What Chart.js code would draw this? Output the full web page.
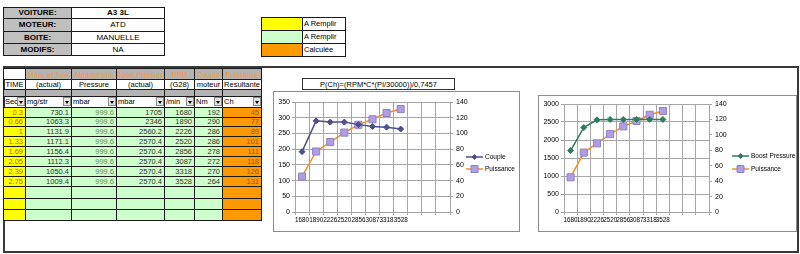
<!DOCTYPE html>
<html>
<head>
<meta charset="utf-8">
<script src="https://cdn.jsdelivr.net/npm/chart.js@4.4.0/dist/chart.umd.min.js"></script>
<style>
  body { margin: 0; width: 800px; height: 254px; background: #fff; position: relative; overflow: hidden;
         font-family: "Liberation Sans", Arial, sans-serif; }
  .c { position: absolute; box-sizing: border-box; border: 1px solid #1a1a1a; font-size: 8px; line-height: 1;
       white-space: nowrap; overflow: hidden; display: flex; align-items: center; justify-content: center; }
  .frame { position: absolute; left: 3px; top: 66px; width: 796px; height: 187px; box-sizing: border-box;
           border: 2px solid #3a3a3a; }
  .chartbox { position: absolute; border: 1px solid #8c8c8c; background: #fff; }
  .formula { position: absolute; left: 302px; top: 78px; width: 153px; height: 12px; box-sizing: border-box;
             border: 1px solid #333; font-size: 7.5px; display: flex; align-items: center; justify-content: center; }
  .btn { position: absolute; right: 0; top: 0; width: 8px; height: 9px; box-sizing: border-box;
         border: 1px solid #8a8a8a; background: #e4e4e4; }
  .btn:after { content: ""; position: absolute; left: 1px; top: 3px; border-left: 2.5px solid transparent;
               border-right: 2.5px solid transparent; border-top: 3px solid #000; }
</style>
</head>
<body>
<div class="frame"></div>
<div class="formula">P(Ch)=(RPM*C*(PI/30000))/0,7457</div>
<div class="chartbox" style="left:273px;top:91px;"><canvas id="chartCouple" width="245" height="139"></canvas></div>
<div class="chartbox" style="left:538px;top:95px;"><canvas id="chartBoost" width="257" height="135"></canvas></div>

<script>
const timeSec = [0.3, 0.66, 1, 1.33, 1.69, 2.05, 2.39, 2.75];
const massAirFlow = [730.1, 1063.3, 1131.9, 1171.1, 1156.4, 1112.3, 1050.4, 1009.4];
const atmoPressure = [999.6, 999.6, 999.6, 999.6, 999.6, 999.6, 999.6, 999.6];
const boostPressure = [1705, 2346, 2560.2, 2570.4, 2570.4, 2570.4, 2570.4, 2570.4];
const rpm = [1680, 1890, 2226, 2520, 2856, 3087, 3318, 3528];
const couple = [192, 290, 286, 286, 278, 272, 270, 264];
const puissance = [45, 77, 89, 101, 111, 118, 126, 131];

// axe X : les 8 régimes + 3 cases vides du tableau
const rpmCategories = ['1680', '1890', '2226', '2520', '2856', '3087', '3318', '3528', '', '', ''];

const infoLabels = ['VOITURE:', 'MOTEUR:', 'BOITE:', 'MODIFS:'];
const infoValues = ['A3 3L', 'ATD', 'MANUELLE', 'NA'];
const keyLabels = ['A Remplir', 'A Remplir', 'Calculée'];

const headTitles = ['', 'Mass air flow', 'Atmospheric', 'Boost Pressure', 'RPM', 'Couple', 'Puissance'];
const headSub = ['TIME', '(actual)', 'Pressure', '(actual)', '(G28)', 'moteur', 'Resultante'];
const headUnits = ['Sec', 'mg/str', 'mbar', 'mbar', '/min', 'Nm', 'Ch'];

const YELLOW = '#ffff00', GREEN = '#ccffcc', ORANGE = '#ff9900';

function cell(x0, x1, y0, y1, text, style) {
    const d = document.createElement('div');
    d.className = 'c';
    d.style.left = x0 + 'px';
    d.style.top = y0 + 'px';
    d.style.width = (x1 - x0 + 1) + 'px';
    d.style.height = (y1 - y0 + 1) + 'px';
    d.textContent = text;
    Object.assign(d.style, style || {});
    document.body.appendChild(d);
    return d;
}

// tableau voiture
const infoY = [7, 18, 31, 43, 55];
infoLabels.forEach((t, i) => {
    cell(3, 71, infoY[i], infoY[i + 1], t, { background: '#c0c0c0', fontWeight: 'bold' });
    cell(71, 164, infoY[i], infoY[i + 1], infoValues[i], { fontWeight: i === 0 ? 'bold' : 'normal' });
});

// légende des couleurs
const keyY = [17, 30, 43, 56];
const keyColors = [YELLOW, GREEN, ORANGE];
keyLabels.forEach((t, i) => {
    cell(261, 302, keyY[i], keyY[i + 1], '', { background: keyColors[i] });
    cell(302, 345, keyY[i], keyY[i + 1], t, { justifyContent: 'flex-start', paddingLeft: '1px', fontSize: '7.5px' });
});

// tableau de mesures
const colX = [3, 25, 71, 116, 164, 194, 222, 261];
const colBg = [YELLOW, GREEN, GREEN, GREEN, GREEN, GREEN, ORANGE];
const colText = ['#c07000', '#333', '#5f8f5f', '#333', '#333', '#333', '#9a5a00'];
const columns = [timeSec, massAirFlow, atmoPressure, boostPressure, rpm, couple, puissance];

for (let c = 0; c < 7; c++) {
    const x0 = colX[c], x1 = colX[c + 1];
    cell(x0, x1, 68, 79, headTitles[c], {
        background: c === 0 ? '#fff' : '#b3b3b3', color: '#f79646', fontSize: '7px'
    });
    cell(x0, x1, 79, 89, headSub[c], { fontSize: '7.5px' });
    cell(x0, x1, 89, 96, '', { background: '#b3b3b3' });
    const f = cell(x0, x1, 96, 107, headUnits[c], { justifyContent: 'flex-start', paddingLeft: '1px', fontSize: '7.5px' });
    const b = document.createElement('span');
    b.className = 'btn';
    f.appendChild(b);
}

const rowY = [107, 117, 126, 136, 146, 156, 166, 176, 186, 198, 209, 220];
for (let r = 0; r < rowY.length - 1; r++) {
    for (let c = 0; c < 7; c++) {
        const v = columns[c][r];
        cell(colX[c], colX[c + 1], rowY[r], rowY[r + 1], v === undefined ? '' : String(v), {
            background: colBg[c], color: colText[c], justifyContent: 'flex-end',
            paddingRight: '2px', fontSize: '7.5px'
        });
    }
}

// graphiques
Chart.defaults.font.family = '"Liberation Sans", Arial, sans-serif';
Chart.defaults.color = '#000';

function drawMarker(ctx, style, x, y, r) {
    ctx.beginPath();
    if (style === 'rect') {
        ctx.rect(x - r, y - r, r * 2, r * 2);
    } else {
        ctx.moveTo(x, y - r);
        ctx.lineTo(x + r, y);
        ctx.lineTo(x, y + r);
        ctx.lineTo(x - r, y);
        ctx.closePath();
    }
    ctx.fill();
    ctx.stroke();
}

// légende façon Excel (trait + marqueur)
const sideLegend = {
    id: 'sideLegend',
    afterDraw(chart, args, opts) {
        const ctx = chart.ctx;
        chart.data.datasets.forEach((ds, i) => {
            const y = opts.y[i];
            ctx.save();
            ctx.strokeStyle = ds.borderColor;
            ctx.lineWidth = ds.borderWidth;
            ctx.beginPath();
            ctx.moveTo(opts.x, y);
            ctx.lineTo(opts.x + 17, y);
            ctx.stroke();
            ctx.fillStyle = ds.pointBackgroundColor;
            ctx.strokeStyle = ds.pointBorderColor;
            ctx.lineWidth = 1;
            drawMarker(ctx, ds.pointStyle, opts.x + 8.5, y, ds.pointStyle === 'rect' ? 3.5 : 2.5);
            ctx.fillStyle = '#000';
            ctx.font = '6.5px "Liberation Sans", Arial, sans-serif';
            ctx.textBaseline = 'middle';
            ctx.fillText(ds.label, opts.x + 19, y + 0.5);
            ctx.restore();
        });
    }
};

function puissanceSet() {
    return {
        label: 'Puissance',
        data: puissance,
        yAxisID: 'y1',
        borderColor: '#f7901e',
        borderWidth: 1.5,
        pointStyle: 'rect',
        pointRadius: 5,
        pointBackgroundColor: '#b09ee0',
        pointBorderColor: '#9080c8',
        pointBorderWidth: 1,
        tension: 0
    };
}

function buildChart(id, firstSet, leftMax, leftStep, leftWidth, pad, legendPos) {
    const GRID = '#a6a6a6';
    return new Chart(document.getElementById(id), {
        type: 'line',
        data: {
            labels: rpmCategories,
            datasets: [firstSet, puissanceSet()]
        },
        options: {
            responsive: false,
            animation: false,
            devicePixelRatio: 1,
            layout: { padding: { top: pad.top, right: pad.right, left: 0, bottom: 0 } },
            plugins: {
                legend: { display: false },
                tooltip: { enabled: false },
                sideLegend: legendPos
            },
            scales: {
                x: {
                    offset: true,
                    grid: { offset: true, color: GRID, tickLength: 3 },
                    border: { color: GRID },
                    ticks: { autoSkip: false, maxRotation: 0, minRotation: 0, padding: 1, font: { size: 6.3 } },
                    afterFit: s => { s.height = 19; }
                },
                y: {
                    position: 'left',
                    min: 0, max: leftMax,
                    grid: { color: GRID, tickLength: 3 },
                    border: { color: GRID },
                    ticks: { stepSize: leftStep, padding: 2, font: { size: 7 }, callback: v => String(v) },
                    afterFit: s => { s.width = leftWidth; }
                },
                y1: {
                    position: 'right',
                    min: 0, max: 140,
                    grid: { drawOnChartArea: false, color: GRID, tickLength: 3 },
                    border: { color: GRID },
                    ticks: { stepSize: 20, padding: 3, font: { size: 7 }, callback: v => String(v) },
                    afterFit: s => { s.width = 18; }
                }
            }
        },
        plugins: [sideLegend]
    });
}

buildChart('chartCouple', {
    label: 'Couple',
    data: couple,
    yAxisID: 'y',
    borderColor: '#4f4f8c',
    borderWidth: 1.5,
    pointStyle: 'rectRot',
    pointRadius: 3,
    pointBackgroundColor: '#4f4f8c',
    pointBorderColor: '#4f4f8c',
    pointBorderWidth: 1,
    tension: 0
}, 350, 50, 21, { top: 10, right: 51 }, { x: 192, y: [65, 77] });

buildChart('chartBoost', {
    label: 'Boost Pressure',
    data: boostPressure,
    yAxisID: 'y',
    borderColor: '#2e7d5e',
    borderWidth: 1.5,
    pointStyle: 'rectRot',
    pointRadius: 3,
    pointBackgroundColor: '#2e7d5e',
    pointBorderColor: '#2e7d5e',
    pointBorderWidth: 1,
    tension: 0
}, 3000, 500, 25, { top: 8, right: 69 }, { x: 193, y: [60, 73] });
</script>
</body>
</html>
